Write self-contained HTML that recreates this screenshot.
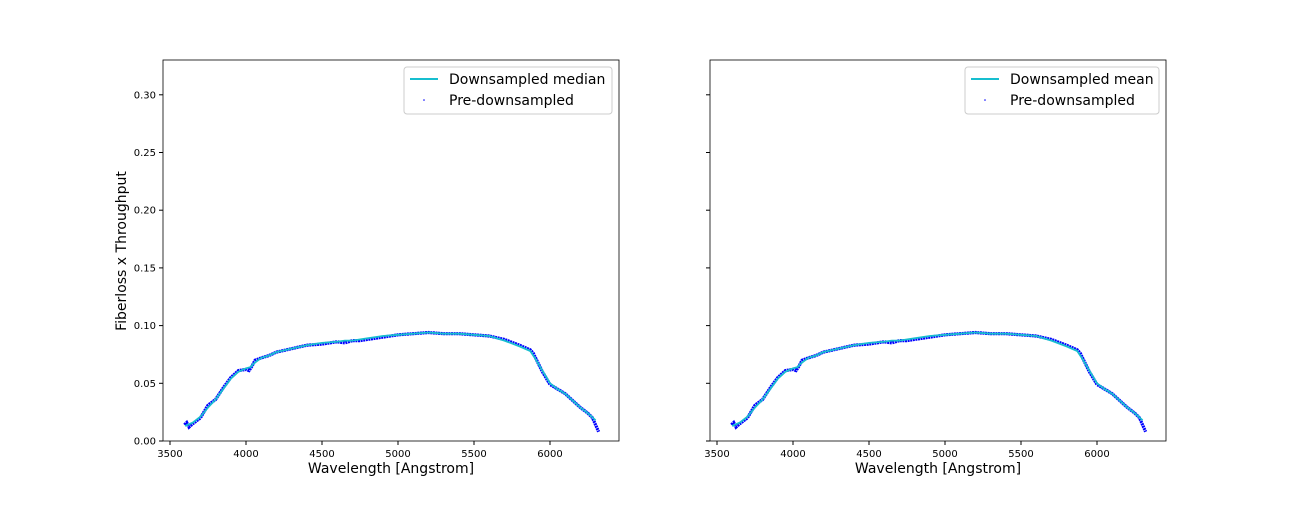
<!DOCTYPE html>
<html><head><meta charset="utf-8"><style>
body{margin:0;background:#fff;font-family:"Liberation Sans","DejaVu Sans",sans-serif}
svg text{font-family:"DejaVu Sans","Liberation Sans",sans-serif}
</style></head><body>
<svg id="chart" width="1296" height="504"></svg>
<script>
const wl=[3600,3650,3700,3750,3800,3850,3900,3950,4000,4030,4050,4100,4150,4200,4300,4400,4500,4600,4650,4700,4800,4900,5000,5100,5200,5300,5400,5500,5600,5700,5800,5870,5900,6000,6050,6100,6200,6250,6300];
const medianVals=[0.013,0.016,0.021,0.029,0.036,0.045,0.054,0.06,0.063,0.064,0.067,0.072,0.074,0.077,0.080,0.083,0.085,0.086,0.087,0.087,0.089,0.091,0.092,0.093,0.094,0.093,0.093,0.092,0.091,0.087,0.082,0.078,0.072,0.050,0.045,0.041,0.029,0.024,0.018];
const meanVals=medianVals.slice();
const preWl=[3595,3610,3625,3650,3700,3750,3800,3850,3900,3950,4000,4020,4040,4060,4100,4150,4200,4300,4400,4500,4600,4650,4700,4750,4800,4900,5000,5100,5200,5300,5400,5500,5600,5700,5800,5870,5890,5950,6000,6050,6100,6200,6250,6280,6300,6320];
const preVals=[0.014,0.016,0.012,0.015,0.020,0.031,0.036,0.046,0.055,0.061,0.062,0.061,0.065,0.070,0.072,0.074,0.077,0.080,0.083,0.084,0.086,0.085,0.087,0.087,0.088,0.090,0.092,0.093,0.094,0.093,0.093,0.092,0.091,0.088,0.083,0.079,0.076,0.060,0.049,0.045,0.041,0.029,0.024,0.020,0.014,0.008];
const xTicks=[3500,4000,4500,5000,5500,6000];
const yTicks=[0,0.05,0.10,0.15,0.20,0.25,0.30];
const NS="http://www.w3.org/2000/svg";
const svg=document.getElementById('chart');
function mk(t,a,p){const e=document.createElementNS(NS,t);for(const k in a)e.setAttribute(k,a[k]);(p||svg).appendChild(e);return e;}
function panel(L,vals,label,showY,pname,lx,lw){
 const T=60,B=441,R=L+456;
 const x=v=>L+(v-3454)/1000*152;
 const y=v=>B-v/0.05*57.7;
 const g=mk('g',{});
 
 
 xTicks.forEach(t=>{const X=x(t);mk('line',{x1:X,x2:X,y1:B,y2:B+4,stroke:'#000'},g);
  const tx=mk('text',{x:X,y:B+16,'text-anchor':'middle','font-size':10},g);tx.textContent=t;
  });
 yTicks.forEach(t=>{const Y=y(t);mk('line',{x1:L-4,x2:L,y1:Y,y2:Y,stroke:'#000'},g);
  if(showY){const tx=mk('text',{x:L-7,y:Y+3.5,'text-anchor':'end','font-size':10},g);tx.textContent=t.toFixed(2);
  }});
 const pre=mk('polyline',{points:preWl.map((w,i)=>x(w)+','+y(preVals[i])).join(' '),fill:'none',stroke:'#0000ff','stroke-width':3.2,'stroke-dasharray':'2 0.6'},g);
 
 const ln=mk('polyline',{points:wl.map((w,i)=>x(w)+','+y(vals[i])).join(' '),fill:'none',stroke:'#17becf','stroke-width':1.8},g);
 
 mk('rect',{x:L,y:T,width:456,height:381,fill:'none',stroke:'#000','stroke-width':0.8},g);
 const xl=mk('text',{x:(L+R)/2,y:473,'text-anchor':'middle','font-size':14},g);xl.textContent='Wavelength [Angstrom]';
 
 const lg=mk('g',{},g);
 mk('rect',{x:lx,y:67,width:lw,height:47,rx:3,fill:'#fff',stroke:'#ccc'},lg);
 mk('line',{x1:lx+6,x2:lx+34,y1:79,y2:79,stroke:'#17becf','stroke-width':2},lg);
 mk('circle',{cx:lx+20,cy:100,r:0.8,fill:'#00f'},lg);
 const t1=mk('text',{x:lx+45,y:84,'font-size':14},lg);t1.textContent=label;
 const t2=mk('text',{x:lx+45,y:105,'font-size':14},lg);t2.textContent='Pre-downsampled';
}
panel(163,medianVals,'Downsampled median',true,'left-panel',404,208);
panel(710,meanVals,'Downsampled mean',false,'right-panel',965,194);
const yl=mk('text',{x:126,y:251,'text-anchor':'middle','font-size':14,transform:'rotate(-90 126 251)'});
yl.textContent='Fiberloss x Throughput';


</script>
</body></html>
